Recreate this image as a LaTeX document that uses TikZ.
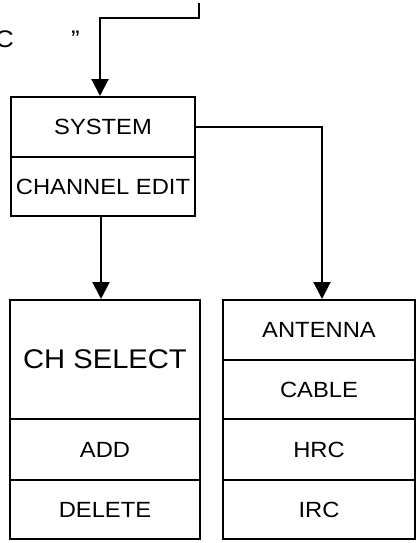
\documentclass[tikz,border=0pt]{standalone}
\usepackage{fontspec}
\setmainfont{Liberation Sans}[FakeStretch=1.08]
\usetikzlibrary{arrows.meta}
\begin{document}
\begin{tikzpicture}[x=1pt,y=1pt,
  cell/.style={draw=black,line width=2pt,rectangle,inner sep=0pt,font=\fontsize{22}{26}\selectfont,text=black},
  stray/.style={font=\fontsize{24}{28}\selectfont,text=black,inner sep=0pt},
  arr/.style={line width=2pt,-{Triangle[width=17pt,length=17pt]}},
  wire/.style={line width=2pt}]
\useasboundingbox (0,0) rectangle (418,-543);
% stray text
\node[stray,anchor=base east] (c) at (14,-48) {C};
\node[stray,anchor=base] (q) at (75.5,-48) {”};
% upper box
\node[cell,minimum width=184pt,minimum height=60pt] (sys) at (103,-127) {SYSTEM};
\node[cell,minimum width=184pt,minimum height=59pt] (ched) at (103,-186.5) {CHANNEL EDIT};
% left bottom box
\node[cell,minimum width=190pt,minimum height=119pt,font=\fontsize{27}{32}\selectfont] (chsel) at (105,-359.5) {CH SELECT};
\node[cell,minimum width=190pt,minimum height=61pt] (add) at (105,-449.5) {ADD};
\node[cell,minimum width=190pt,minimum height=59pt] (del) at (105,-509.5) {DELETE};
% right bottom box
\node[cell,minimum width=192pt,minimum height=60pt] (ant) at (319,-330) {ANTENNA};
\node[cell,minimum width=192pt,minimum height=59pt] (cab) at (319,-389.5) {CABLE};
\node[cell,minimum width=192pt,minimum height=61pt] (hrc) at (319,-449.5) {HRC};
\node[cell,minimum width=192pt,minimum height=59pt] (irc) at (319,-509.5) {IRC};
% connectors
\coordinate (top) at (199,-3);
\coordinate (bend) at (199,-18);
\draw[arr] (top) -- (bend) -| ([xshift=-3pt]sys.north);
\draw[arr] (sys.east) -| ([xshift=3pt]ant.north);
\draw[arr] ([xshift=-2pt]ched.south) -- ([xshift=-4pt]chsel.north);
\end{tikzpicture}
\end{document}
